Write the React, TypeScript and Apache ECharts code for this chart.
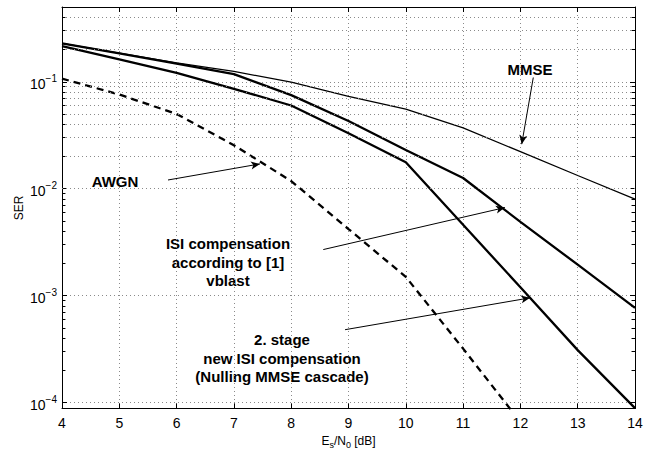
import React, { useEffect, useRef } from "react";
import * as echarts from "echarts";

const snrDb = [4, 5, 6, 7, 8, 9, 10, 11, 12, 13, 14];
const mmse = [0.228, 0.185, 0.15, 0.125, 0.099, 0.073, 0.0555, 0.037, 0.0222, 0.0133, 0.008];
const isiComp = [0.228, 0.184, 0.148, 0.118, 0.075, 0.043, 0.023, 0.0126, 0.0049, 0.00195, 0.00077];
const stage2 = [0.215, 0.162, 0.121, 0.086, 0.06, 0.033, 0.0177, 0.0046, 0.0012, 0.00031, 0.000089];
const awgnX = [4, 5, 6, 7, 8, 9, 10, 11, 12];
const awgn = [0.107, 0.076, 0.05, 0.0255, 0.0118, 0.0042, 0.0015, 0.00032, 0.000066];

const yMin = 0.000088;
const yMax = 0.5;
const minorGrid = [
  0.0002, 0.0003, 0.0004, 0.0005, 0.0006, 0.0007, 0.0008, 0.0009,
  0.002, 0.003, 0.004, 0.005, 0.006, 0.007, 0.008, 0.009,
  0.02, 0.03, 0.04, 0.05, 0.06, 0.07, 0.08, 0.09,
  0.2, 0.3, 0.4,
];

// annotation arrows: [fromX, fromY, toX, toY] in data units
const arrows = [
  [12.225, 0.1096, 12.023, 0.0261],
  [5.85, 0.01207, 7.455, 0.01706],
  [8.56, 0.0027, 11.73, 0.00667],
  [8.94, 0.000481, 12.17, 0.000955],
];

const FONT = '"Liberation Sans", Arial, Helvetica, sans-serif';

export default function App() {
  const ref = useRef<HTMLDivElement>(null);
  useEffect(() => {
    document.body.style.margin = "0";
    const chart = echarts.init(ref.current!, null, { renderer: "svg" });
    const gridStyle = { color: "#8a8a8a", width: 1, type: [1, 3] as any };
    const tick = { inside: true, length: 5, lineStyle: { color: "#000", width: 1 } };
    const axLine = { show: true, onZero: false, lineStyle: { color: "#000", width: 1 } };
    const minorTicks: any[] = [];
    minorGrid.forEach((v) => {
      minorTicks.push([{ coord: [4, v] }, { coord: [4.06, v] }]);
      minorTicks.push([{ coord: [13.94, v] }, { coord: [14, v] }]);
    });
    const option: any = {
      animation: false,
      textStyle: { fontFamily: FONT },
      grid: { left: 62, right: 26, top: 7, bottom: 40 },
      xAxis: [
        {
          type: "value",
          min: 4,
          max: 14,
          interval: 1,
          axisLine: axLine,
          axisTick: tick,
          axisLabel: { color: "#000", fontSize: 14, margin: 7, fontFamily: FONT },
          splitLine: { show: true, lineStyle: gridStyle },
          name: "{n|E}{sub|s}{n|/N}{sub|0}{n| [dB]}",
          nameLocation: "middle",
          nameGap: 20,
          nameTextStyle: {
            rich: {
              n: { fontSize: 12, color: "#000", fontFamily: FONT },
              sub: { fontSize: 9, color: "#000", fontFamily: FONT, padding: [8, 0, 0, 0] },
            },
          },
        },
        {
          type: "value",
          position: "top",
          min: 4,
          max: 14,
          interval: 1,
          axisLine: axLine,
          axisTick: tick,
          axisLabel: { show: false },
          splitLine: { show: false },
        },
      ],
      yAxis: [
        {
          type: "log",
          logBase: 10,
          min: yMin,
          max: yMax,
          axisLine: axLine,
          axisTick: tick,
          axisLabel: {
            showMinLabel: false,
            showMaxLabel: false,
            margin: 5,
            formatter: (v: number) => {
              const e = Math.round(Math.log10(v));
              if (Math.abs(Math.log10(v) - e) > 0.01) return "";
              return `{b|10}{s|${e < 0 ? "\u2212" : ""}${Math.abs(e)}}`;
            },
            rich: {
              b: { fontSize: 14, color: "#000", fontFamily: FONT, padding: [5, 0, 0, 0] },
              s: { fontSize: 10, color: "#000", fontFamily: FONT, padding: [0, 0, 6, 0] },
            },
          },
          splitLine: { show: true, lineStyle: gridStyle },
          name: "SER",
          nameLocation: "middle",
          nameGap: 37,
          nameMoveOverlap: false,
          nameTextStyle: { fontSize: 12, color: "#000", fontFamily: FONT },
        },
        {
          type: "log",
          logBase: 10,
          min: yMin,
          max: yMax,
          position: "right",
          axisLine: axLine,
          axisTick: tick,
          axisLabel: { show: false },
          splitLine: { show: false },
        },
      ],
      series: [
        {
          type: "line",
          name: "grid",
          data: [],
          silent: true,
          markLine: {
            silent: true,
            symbol: "none",
            label: { show: false },
            lineStyle: gridStyle,
            emphasis: { disabled: true },
            data: minorGrid.map((v) => ({ yAxis: v })),
          },
        },
        {
          type: "line",
          name: "minorTicks",
          data: [],
          silent: true,
          markLine: {
            silent: true,
            symbol: "none",
            label: { show: false },
            lineStyle: { color: "#000", width: 1, type: "solid" },
            emphasis: { disabled: true },
            data: minorTicks,
          },
        },
        {
          type: "line",
          name: "MMSE",
          data: snrDb.map((x, i) => [x, mmse[i]]),
          showSymbol: false,
          clip: true,
          lineStyle: { color: "#000", width: 1.3 },
        },
        {
          type: "line",
          name: "ISI compensation according to [1] vblast",
          data: snrDb.map((x, i) => [x, isiComp[i]]),
          showSymbol: false,
          clip: true,
          lineStyle: { color: "#000", width: 2.3 },
        },
        {
          type: "line",
          name: "2. stage",
          data: snrDb.map((x, i) => [x, stage2[i]]),
          showSymbol: false,
          clip: true,
          lineStyle: { color: "#000", width: 2.3 },
        },
        {
          type: "line",
          name: "AWGN",
          data: awgnX.map((x, i) => [x, awgn[i]]),
          showSymbol: false,
          clip: true,
          lineStyle: { color: "#000", width: 2.3, type: [7, 5] },
        },
        {
          type: "line",
          name: "arrows",
          data: [],
          silent: true,
          markLine: {
            silent: true,
            symbol: ["none", "arrow"],
            symbolSize: [6, 9],
            label: { show: false },
            lineStyle: { color: "#000", width: 1, type: "solid" },
            itemStyle: { color: "#000" },
            emphasis: { disabled: true },
            data: arrows.map((a) => [{ coord: [a[0], a[1]] }, { coord: [a[2], a[3]] }]),
          },
        },
      ],
      graphic: [
        {
          type: "text",
          x: 530,
          y: 69,
          style: { text: "MMSE", font: `bold 15px ${FONT}`, align: "center", verticalAlign: "middle", fill: "#000" },
        },
        {
          type: "text",
          x: 115,
          y: 181,
          style: { text: "AWGN", font: `bold 15px ${FONT}`, align: "center", verticalAlign: "middle", fill: "#000" },
        },
        {
          type: "text",
          x: 228,
          y: 262,
          style: {
            text: "ISI compensation\naccording to [1]\nvblast",
            font: `bold 15px ${FONT}`,
            lineHeight: 18.5,
            align: "center",
            verticalAlign: "middle",
            fill: "#000",
          },
        },
        {
          type: "text",
          x: 282,
          y: 358,
          style: {
            text: "2. stage\nnew ISI compensation\n(Nulling MMSE cascade)",
            font: `bold 15px ${FONT}`,
            lineHeight: 18.8,
            align: "center",
            verticalAlign: "middle",
            fill: "#000",
          },
        },
      ],
    };
    chart.setOption(option);
    return () => chart.dispose();
  }, []);
  return <div ref={ref} style={{ width: 661, height: 454 }} />;
}
